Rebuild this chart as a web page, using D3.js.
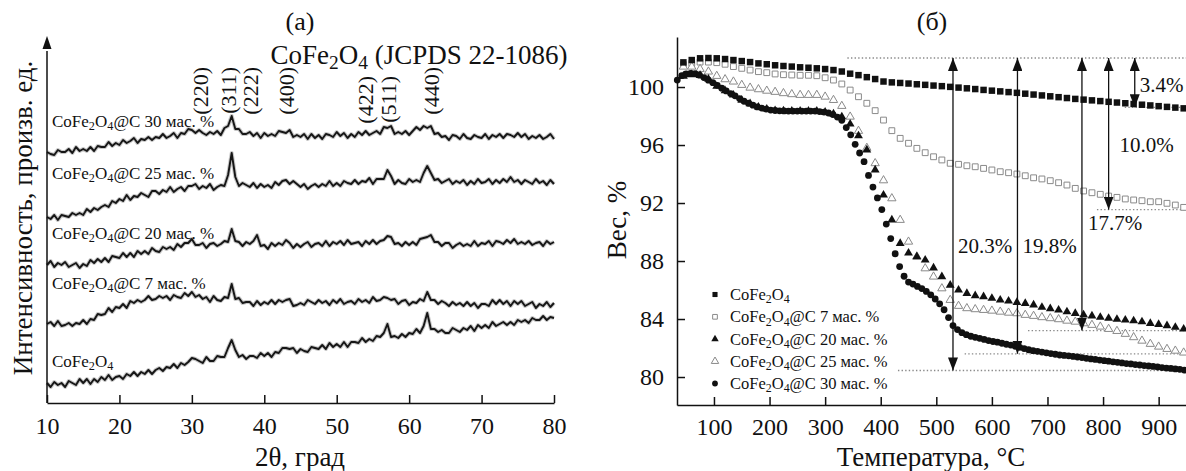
<!DOCTYPE html>
<html>
<head>
<meta charset="utf-8">
<script src="https://cdn.jsdelivr.net/npm/d3@7"></script>
<style>
  body { margin: 0; background: #fff; }
  svg { display: block; font-family: "Liberation Serif", "DejaVu Serif", serif; }
</style>
</head>
<body>
<div id="graph"></div>
<script>
// ---------- (a) XRD patterns, intensity in arb. units ----------
var twoTheta = [10,10.5,11,11.5,12,12.5,13,13.5,14,14.5,15,15.5,16,16.5,17,17.5,18,18.5,19,19.5,
  20,20.5,21,21.5,22,22.5,23,23.5,24,24.5,25,25.5,26,26.5,27,27.5,28,28.5,29,29.5,
  30,30.5,31,31.5,32,32.5,33,33.5,34,34.5,35,35.5,36,36.5,37,37.5,38,38.5,39,39.5,
  40,40.5,41,41.5,42,42.5,43,43.5,44,44.5,45,45.5,46,46.5,47,47.5,48,48.5,49,49.5,
  50,50.5,51,51.5,52,52.5,53,53.5,54,54.5,55,55.5,56,56.5,57,57.5,58,58.5,59,59.5,
  60,60.5,61,61.5,62,62.5,63,63.5,64,64.5,65,65.5,66,66.5,67,67.5,68,68.5,69,69.5,
  70,70.5,71,71.5,72,72.5,73,73.5,74,74.5,75,75.5,76,76.5,77,77.5,78,78.5,79,79.5,80];

var xrdCoFe2O4 = [20,16,21,18,20,16,22,20,18,24,20,24,19,24,21,26,23,28,23,26,
  27,24,29,27,31,27,31,29,33,29,33,35,32,36,35,39,35,40,38,41,
  45,44,42,40,46,42,42,47,46,46,55,63,53,46,48,44,47,47,45,50,
  47,50,46,51,50,55,55,54,55,50,54,52,51,56,55,54,58,54,60,56,
  59,56,61,56,61,61,60,65,61,64,62,67,66,70,79,66,67,65,69,66,
  70,69,74,70,77,90,74,74,71,73,70,70,75,73,71,75,73,77,72,78,
  75,78,75,81,77,79,81,78,81,78,83,81,83,80,85,83,83,87,83,86,85];

var xrdC7 = [79,81,77,82,77,78,80,77,80,79,83,79,84,83,89,88,89,95,91,96,
  95,99,95,102,100,103,101,103,107,103,104,107,105,107,103,108,106,105,110,107,
  111,106,108,104,106,101,107,103,102,106,105,119,104,105,100,101,101,97,102,98,
  101,99,103,99,103,101,103,104,97,98,100,98,103,101,99,103,100,102,98,103,
  100,104,99,101,102,99,104,101,103,100,106,102,103,106,105,103,104,99,102,103,
  98,101,100,104,102,111,103,103,99,102,100,97,101,98,100,97,101,97,100,95,
  99,99,97,103,99,103,99,102,97,102,99,102,97,99,101,95,99,97,101,96,100];

var xrdC20 = [138,142,136,140,138,141,136,138,140,135,139,137,143,140,144,141,145,141,147,146,
  145,150,146,150,146,152,149,152,149,155,152,151,156,154,156,153,159,156,160,160,
  164,158,158,160,155,159,160,157,159,162,161,174,162,161,157,161,159,162,168,157,
  158,154,160,157,160,158,163,160,155,159,156,159,161,156,159,160,157,162,157,161,
  159,162,158,163,159,160,161,157,162,159,163,159,162,163,167,166,159,160,157,161,
  158,161,158,164,165,166,168,161,161,157,160,160,155,158,160,157,159,157,162,157,
  160,159,162,157,162,161,159,163,160,164,159,161,159,162,158,160,161,157,162,159,161];

var xrdC25 = [186,184,188,183,188,187,186,190,188,190,188,194,191,195,193,196,198,196,202,200,
  204,202,208,203,207,206,210,208,206,212,212,209,213,211,216,211,214,216,212,217,
  217,219,214,217,215,219,213,216,218,217,228,250,226,217,220,218,216,220,215,219,
  216,218,215,221,218,222,223,219,222,219,216,219,214,217,219,216,219,217,222,217,
  220,217,222,220,219,223,219,222,221,225,219,224,224,224,233,227,219,223,220,219,
  224,221,223,221,230,237,230,223,224,220,222,224,219,222,220,223,218,222,219,224,
  220,221,224,219,223,220,224,221,226,221,223,219,223,221,219,224,220,222,218,223,219];

var xrdC30 = [251,249,248,253,251,251,254,250,256,252,254,252,256,252,257,256,256,261,257,260,
  258,263,260,262,265,260,264,263,266,263,266,265,269,265,267,270,265,270,269,274,
  273,270,273,270,268,271,269,272,268,275,277,287,274,274,269,269,271,267,270,265,
  270,267,269,267,272,271,270,273,266,268,266,269,264,269,265,268,264,269,268,266,271,
  267,270,265,269,266,271,268,272,268,270,272,269,276,275,277,269,271,269,272,268,
  272,276,273,277,275,277,269,270,266,267,263,268,267,264,269,265,264,268,266,265,
  269,264,268,266,269,265,269,268,266,270,266,269,264,267,265,268,264,266,269,264];

var xrdTails = ["", "@C 7 мас. %", "@C 20 мас. %", "@C 25 мас. %", "@C 30 мас. %"];
var hklNames = ["(220)", "(311)", "(222)", "(400)", "(422)", "(511)", "(440)"];
var hklPos = [31.2, 35.1, 38.1, 43.0, 54.0, 57.1, 63.1];
var xrdTicks = [10, 20, 30, 40, 50, 60, 70, 80];

// ---------- (б) TG curves, weight % ----------
var tgaTemp15 = [45,60,75,90,105,120,135,150,165,180,195,210,225,240,255,270,285,300,315,330,
  345,360,375,390,405,420,435,450,465,480,495,510,525,540,555,570,585,600,615,630,
  645,660,675,690,705,720,735,750,765,780,795,810,825,840,855,870,885,900,915,930,945];

var tgaTemp8 = [34,42,50,58,66,74,82,90,98,106,114,122,130,138,146,154,162,170,178,186,
  194,202,210,218,226,234,242,250,258,266,274,282,290,298,306,314,322,330,338,346,
  354,362,370,378,386,394,402,410,418,426,434,442,450,458,466,474,482,490,498,506,
  514,522,530,538,546,554,562,570,578,586,594,602,610,618,626,634,642,650,658,666,
  674,682,690,698,706,714,722,730,738,746,754,762,770,778,786,794,802,810,818,826,
  834,842,850,858,866,874,882,890,898,906,914,922,930,938,946];

var wCoFe2O4 = [101.70,101.86,101.98,102.00,101.98,101.93,101.86,101.79,101.72,101.63,
  101.57,101.50,101.45,101.41,101.36,101.33,101.29,101.24,101.17,101.07,
  100.92,100.82,100.68,100.55,100.38,100.32,100.28,100.24,100.19,100.15,
  100.10,100.06,100.01,99.96,99.91,99.86,99.80,99.75,99.70,99.65,
  99.60,99.54,99.48,99.42,99.36,99.30,99.24,99.18,99.13,99.08,
  99.03,98.98,98.93,98.88,98.83,98.78,98.73,98.68,98.63,98.58,98.53];

var wC7 = [101.55,101.63,101.72,101.72,101.68,101.57,101.41,101.29,101.17,101.06,
  100.99,100.90,100.85,100.83,100.81,100.81,100.78,100.64,100.48,100.21,
  99.79,99.33,98.88,98.37,97.72,96.99,96.46,96.12,95.77,95.47,
  95.19,94.97,94.74,94.67,94.57,94.50,94.39,94.28,94.16,94.09,
  94.00,93.88,93.74,93.66,93.54,93.40,93.24,93.01,92.83,92.71,
  92.60,92.48,92.39,92.28,92.21,92.16,92.09,92.09,91.98,91.86,91.70];

var wC20 = [100.75,100.85,100.80,100.55,100.05,99.75,99.45,99.10,98.85,98.62,
  98.48,98.38,98.35,98.34,98.34,98.34,98.33,98.27,98.15,97.95,
  97.45,96.64,95.66,94.28,92.55,90.83,89.22,88.55,88.30,88.07,
  87.53,86.92,86.34,86.00,85.77,85.61,85.54,85.43,85.31,85.24,
  85.15,85.08,84.97,84.81,84.71,84.62,84.50,84.39,84.28,84.21,
  84.12,84.05,83.98,83.93,83.88,83.81,83.70,83.63,83.54,83.43,83.31];

var wC25 = [101.40,101.40,101.24,101.06,100.76,100.53,100.37,100.14,99.95,99.84,
  99.74,99.66,99.57,99.50,99.45,99.45,99.45,99.33,99.10,98.69,
  97.95,96.97,95.80,94.74,93.56,92.32,90.83,89.33,88.30,87.49,
  86.92,86.11,85.31,84.90,84.74,84.67,84.62,84.57,84.50,84.43,
  84.39,84.28,84.21,84.12,84.05,83.98,83.88,83.81,83.70,83.59,
  83.47,83.31,83.17,82.97,82.74,82.50,82.28,82.09,81.93,81.81,81.68];

var wC30 = [100.48,100.78,100.90,100.94,100.92,100.82,100.65,100.47,100.30,100.12,
  99.92,99.73,99.55,99.39,99.20,99.02,98.88,98.75,98.63,98.55,
  98.48,98.41,98.38,98.36,98.35,98.34,98.34,98.34,98.34,98.34,
  98.34,98.34,98.31,98.27,98.21,98.10,97.93,97.70,97.20,96.70,
  96.05,95.45,94.85,93.90,93.10,92.35,91.55,90.55,89.55,88.50,
  87.62,86.95,86.55,86.41,86.25,86.10,85.90,85.67,85.38,85.05,
  84.64,84.10,83.55,83.27,83.06,82.92,82.81,82.74,82.67,82.59,
  82.51,82.45,82.40,82.33,82.26,82.20,82.12,82.05,81.96,81.88,
  81.82,81.77,81.72,81.67,81.62,81.57,81.52,81.49,81.46,81.42,
  81.38,81.34,81.29,81.25,81.21,81.17,81.13,81.09,81.05,81.01,
  80.97,80.93,80.90,80.86,80.83,80.79,80.76,80.73,80.69,80.65,
  80.62,80.59,80.56,80.53,80.48];

var tgaTails = ["", "@C 7 мас. %", "@C 20 мас. %", "@C 25 мас. %", "@C 30 мас. %"];
var tgaXTicks = [100, 200, 300, 400, 500, 600, 700, 800, 900];
var tgaYTicks = [80, 84, 88, 92, 96, 100];

// weight loss annotations
var lossText = ["20.3%", "19.8%", "17.7%", "10.0%", "3.4%"];
var lossT = [530, 646, 762, 810, 857];
var lossTop = 102.0;
var lossBottom = [80.45, 81.6, 83.2, 91.55, 98.6];
var lossGuideFrom = [431, 551, 665, 789, 839];

// ---------- layout ----------
var w = 1186, h = 471;
var fontTick = 24, fontTitle = 27;

var svg = d3.select("#graph").append("svg")
    .attr("width", w)
    .attr("height", h);

var defs = svg.append("defs");
defs.append("marker")
    .attr("id", "head")
    .attr("viewBox", "0 0 13 10")
    .attr("refX", 13).attr("refY", 5)
    .attr("markerWidth", 13).attr("markerHeight", 10)
    .attr("markerUnits", "userSpaceOnUse")
    .attr("orient", "auto-start-reverse")
  .append("path")
    .attr("d", "M0,0 L13,5 L0,10 z")
    .attr("fill", "#111");

// CoFe2O4 with subscripts, then the rest of the label
function chem(t, size, tail) {
  var sub = size * 0.72, dy = size * 0.2;
  t.style("white-space", "pre");
  t.append("tspan").text("CoFe");
  t.append("tspan").attr("font-size", sub).attr("dy", dy).text("2");
  t.append("tspan").attr("dy", -dy).text("O");
  t.append("tspan").attr("font-size", sub).attr("dy", dy).text("4");
  if (tail) t.append("tspan").attr("dy", -dy).text(tail);
}

function styleAxis(g) {
  g.attr("font-family", null).attr("font-size", fontTick);
  g.select(".domain").attr("stroke", "#111").attr("stroke-width", 1.5);
  g.selectAll(".tick line").attr("stroke", "#111").attr("stroke-width", 1.5);
  g.selectAll(".tick text").attr("fill", "#111");
}

// ================= panel (a) =================
var xA = d3.scaleLinear().domain([10, 80]).range([47, 554]);
var yA = d3.scaleLinear().domain([0, 366]).range([403, 37]);

var lineA = d3.line()
    .x(function(d, i) { return xA(twoTheta[i]); })
    .y(function(d) { return yA(d); });

var xrdSets = [xrdCoFe2O4, xrdC7, xrdC20, xrdC25, xrdC30];
xrdSets.forEach(function(s) {
  // soft grey halo gives the noisy band its width
  svg.append("path")
      .datum(s)
      .attr("d", lineA)
      .attr("fill", "none")
      .attr("stroke", "#9a9a9a")
      .attr("stroke-width", 4)
      .attr("stroke-linejoin", "round")
      .attr("opacity", 0.55);
  svg.append("path")
      .datum(s)
      .attr("d", lineA)
      .attr("fill", "none")
      .attr("stroke", "#161616")
      .attr("stroke-width", 1.9)
      .attr("stroke-linejoin", "round");
});

var gxA = svg.append("g")
    .attr("transform", "translate(0," + yA(0) + ")")
    .call(d3.axisBottom(xA).tickValues(xrdTicks).tickSizeInner(-8).tickSizeOuter(0).tickPadding(14));
styleAxis(gxA);

// y axis with arrow, no ticks
svg.append("line")
    .attr("x1", xA(10)).attr("x2", xA(10))
    .attr("y1", yA(0)).attr("y2", yA(352))
    .attr("stroke", "#111").attr("stroke-width", 1.5);
svg.append("path")
    .attr("d", "M" + xA(10) + "," + (yA(366) - 1) + " l-4.5,13 l9,0 z")
    .attr("fill", "#111");

// sample labels (baseline positions in intensity units)
var xrdLabelAt = [36, 114, 164, 224, 276];
xrdTails.forEach(function(tail, i) {
  var t = svg.append("text")
      .attr("x", 52).attr("y", yA(xrdLabelAt[i]))
      .attr("font-size", 17).attr("fill", "#111");
  chem(t, 17, tail);
});

// reflections
hklNames.forEach(function(name, i) {
  var top = (name === "(422)" || name === "(511)") ? 76 : 67;
  svg.append("text")
      .attr("transform", "translate(" + xA(hklPos[i]) + "," + top + ") rotate(-90)")
      .attr("text-anchor", "end")
      .attr("dy", "0.35em")
      .attr("font-size", 22)
      .attr("fill", "#111")
      .text(name);
});

var tA = svg.append("text")
    .attr("x", 419).attr("y", 64)
    .attr("text-anchor", "middle")
    .attr("font-size", fontTitle).attr("fill", "#111");
chem(tA, fontTitle, " (JCPDS 22-1086)");

svg.append("text")
    .attr("x", 300).attr("y", 30)
    .attr("text-anchor", "middle")
    .attr("font-size", 26).attr("fill", "#111")
    .text("(a)");

svg.append("text")
    .attr("x", 300).attr("y", 466)
    .attr("text-anchor", "middle")
    .attr("font-size", fontTitle).attr("fill", "#111")
    .text("2θ, град");

svg.append("text")
    .attr("transform", "translate(32,218) rotate(-90)")
    .attr("text-anchor", "middle")
    .attr("font-size", fontTitle).attr("fill", "#111")
    .text("Интенсивность, произв. ед.");

// ================= panel (б) =================
var xB = d3.scaleLinear().domain([33.5, 951]).range([677, 1187]);
var yB = d3.scaleLinear().domain([78.07, 103.45]).range([405, 37]);

var gxB = svg.append("g")
    .attr("transform", "translate(0," + yB.range()[0] + ")")
    .call(d3.axisBottom(xB).tickValues(tgaXTicks).tickSizeInner(-8).tickSizeOuter(0).tickPadding(13));
styleAxis(gxB);

var gyB = svg.append("g")
    .attr("transform", "translate(" + xB.range()[0] + ",0)")
    .call(d3.axisLeft(yB).tickValues(tgaYTicks).tickSizeInner(-8).tickSizeOuter(0).tickPadding(13));
styleAxis(gyB);

// guide lines
var grey = "#8a8a8a";
function guide(t0, v) {
  svg.append("line")
      .attr("x1", xB(t0)).attr("x2", xB(951))
      .attr("y1", yB(v)).attr("y2", yB(v))
      .attr("stroke", grey).attr("stroke-width", 1.3)
      .attr("stroke-dasharray", "1.4,2.2");
}
guide(340, lossTop);
lossBottom.forEach(function(v, i) { guide(lossGuideFrom[i], v); });

var sq = d3.symbol().type(d3.symbolSquare);
var tri = d3.symbol().type(d3.symbolTriangle);

function points(vals, temps, shape, size, fill, stroke) {
  svg.append("g").selectAll("path")
      .data(vals)
      .enter().append("path")
      .attr("transform", function(d, i) { return "translate(" + xB(temps[i]) + "," + yB(d) + ")"; })
      .attr("d", shape.size(size)())
      .attr("fill", fill)
      .attr("stroke", stroke || "none")
      .attr("stroke-width", stroke ? 1 : 0);
}

points(wC7, tgaTemp15, sq, 34, "#fff", grey);
points(wC25, tgaTemp15, tri, 30, "#fff", grey);
points(wCoFe2O4, tgaTemp15, sq, 42, "#111");
points(wC20, tgaTemp15, tri, 34, "#111");

svg.append("g").selectAll("circle")
    .data(wC30)
    .enter().append("circle")
    .attr("cx", function(d, i) { return xB(tgaTemp8[i]); })
    .attr("cy", function(d) { return yB(d); })
    .attr("r", 3.4)
    .attr("fill", "#111");

// weight loss arrows
var lossLabelDx = [5, 5, 6, 11, 5];
var lossLabelAt = [88.55, 88.55, 90.14, 95.52, 99.66];
lossT.forEach(function(t, i) {
  svg.append("line")
      .attr("x1", xB(t)).attr("x2", xB(t))
      .attr("y1", yB(lossTop)).attr("y2", yB(lossBottom[i]))
      .attr("stroke", "#111").attr("stroke-width", 1.3)
      .attr("marker-start", "url(#head)")
      .attr("marker-end", "url(#head)");
  svg.append("text")
      .attr("x", xB(t) + lossLabelDx[i]).attr("y", yB(lossLabelAt[i]))
      .attr("font-size", 21).attr("fill", "#111")
      .text(lossText[i]);
});

// legend
var legendY = [300, 322.3, 344.5, 366.8, 389];
var legendMark = [
  function(g) { g.append("path").attr("d", sq.size(26)()).attr("fill", "#111"); },
  function(g) { g.append("path").attr("d", sq.size(22)()).attr("fill", "#fff").attr("stroke", grey); },
  function(g) { g.append("path").attr("d", tri.size(24)()).attr("fill", "#111"); },
  function(g) { g.append("path").attr("d", tri.size(24)()).attr("fill", "#fff").attr("stroke", grey); },
  function(g) { g.append("circle").attr("r", 2.9).attr("fill", "#111"); }
];
tgaTails.forEach(function(tail, i) {
  var g = svg.append("g").attr("transform", "translate(715," + (legendY[i] - 5.5) + ")");
  legendMark[i](g);
  var t = svg.append("text")
      .attr("x", 730).attr("y", legendY[i])
      .attr("font-size", 16.5).attr("fill", "#111");
  chem(t, 16.5, tail);
});

svg.append("text")
    .attr("x", 932).attr("y", 30)
    .attr("text-anchor", "middle")
    .attr("font-size", 26).attr("fill", "#111")
    .text("(б)");

svg.append("text")
    .attr("x", 931).attr("y", 466)
    .attr("text-anchor", "middle")
    .attr("font-size", fontTitle).attr("fill", "#111")
    .text("Температура, °C");

svg.append("text")
    .attr("transform", "translate(626,220) rotate(-90)")
    .attr("text-anchor", "middle")
    .attr("font-size", fontTitle).attr("fill", "#111")
    .text("Вес, %");
</script>
</body>
</html>
